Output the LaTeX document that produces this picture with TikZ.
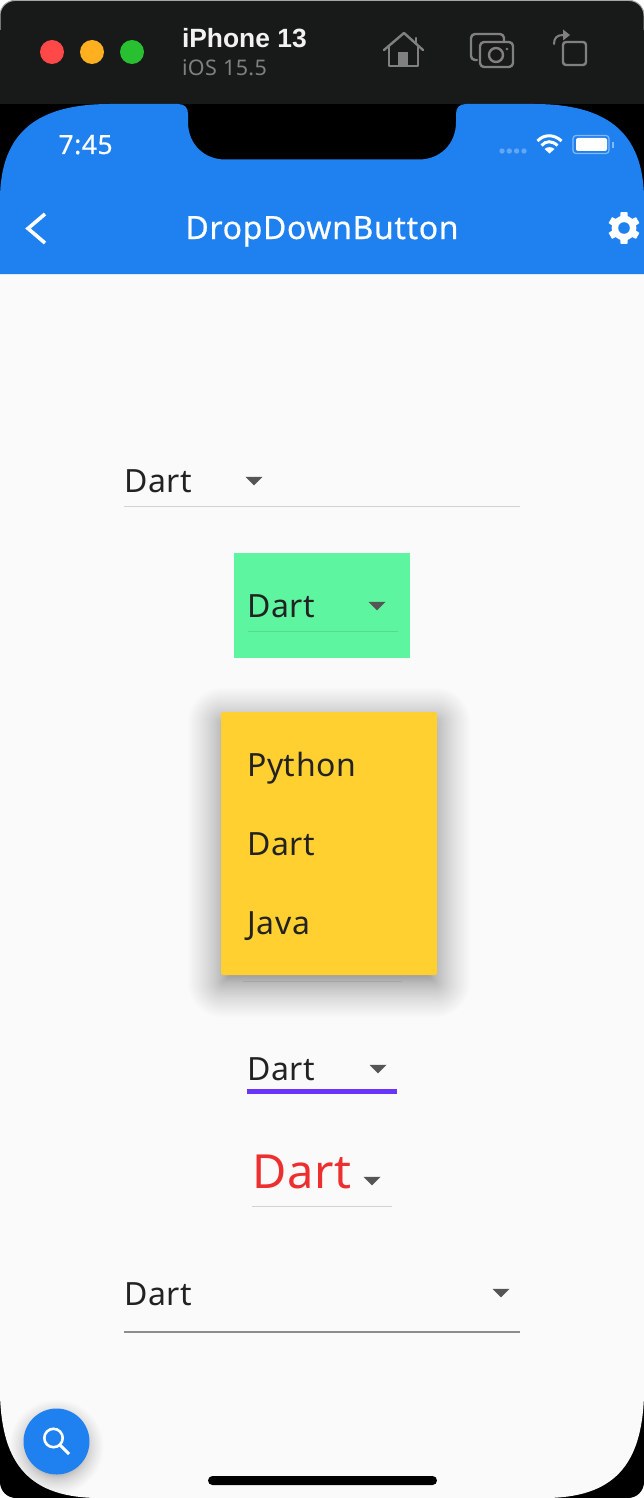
\documentclass[tikz,border=0pt]{standalone}
\usepackage{fontspec}
\setmainfont{Noto Sans}[LetterSpace=2]
\newfontfamily\devfont{Liberation Sans}
\newfontfamily\mediumfont{Noto Sans}[LetterSpace=2,FakeBold=0.5]
\definecolor{barbg}{HTML}{181A1A}
\definecolor{appblue}{HTML}{1F80F0}
\definecolor{pagebg}{HTML}{FAFAFA}
\definecolor{ink}{HTML}{222222}
\definecolor{caret}{HTML}{555555}
\definecolor{icongray}{HTML}{808080}
\definecolor{mintbg}{HTML}{5EF5A0}
\definecolor{amberbg}{HTML}{FFD030}
\definecolor{violetline}{HTML}{6A35FA}
\definecolor{redtext}{HTML}{EE2F2F}
\definecolor{lampred}{HTML}{FF4848}
\definecolor{lampamber}{HTML}{FFB020}
\definecolor{lampgreen}{HTML}{28C030}
\newcommand{\fs}[1]{\fontsize{#1}{#1}\selectfont}
\tikzset{
  x=1pt,y=-1pt,
  lab/.style={anchor=base west,inner sep=0pt,outer sep=0pt,text=ink,font=\fs{32}},
  caretmark/.style={fill=caret,draw=none},
  iconline/.style={draw=icongray,line width=2.4pt,line join=round,line cap=round},
  thinrule/.style={line width=1pt,draw=#1},
}
\newcommand{\caretat}[2]{\fill[caretmark] (#1-8.5,#2-4.2) -- (#1+8.5,#2-4.2) -- (#1,#2+4.4) -- cycle;}
\begin{document}
\begin{tikzpicture}
\useasboundingbox (0,0) rectangle (644,1498);
\fill[white] (0,0) rectangle (644,1498);
% device body
\fill[black,rounded corners=16pt] (0,20) rectangle (644,1498);
\fill[barbg,rounded corners=16pt] (0,0) rectangle (644,60);
\fill[barbg] (0,30) rectangle (644,104);
\draw[line width=1pt,draw=gray!70,rounded corners=15pt] (0,30) -- (0,.5) -- (644,.5) -- (644,30);
% page
\fill[pagebg] (0,270) -- (0,1395) .. controls (2,1465) and (30,1498) .. (100,1498) -- (544,1498) .. controls (614,1498) and (642,1465) .. (644,1395) -- (644,270) -- cycle;
% app bar
\fill[appblue] (0,274) -- (0,200) .. controls (0,130) and (40,104) .. (110,104) -- (178,104)
  .. controls (185,104) and (188,108) .. (188,114) -- (188,122)
  .. controls (188,145) and (205,159.5) .. (225,159.5) -- (419,159.5)
  .. controls (439,159.5) and (456,145) .. (456,122) -- (456,114)
  .. controls (456,108) and (459,104) .. (466,104) -- (534,104)
  .. controls (604,104) and (644,130) .. (644,200) -- (644,274) -- cycle;
% window buttons
\fill[lampred] (52,52) circle[radius=12];
\fill[lampamber] (92,52) circle[radius=12];
\fill[lampgreen] (132,52) circle[radius=12];
\node[lab,text=white!90!gray,font=\devfont\fs{26.4}\bfseries] (device) at (182,48) {iPhone 13};
\node[lab,text=icongray,font=\fs{21.5}] (os) at (182,75.5) {iOS 15.5};
% home icon
\draw[iconline] (384,50) -- (404,33) -- (423,50);
\draw[iconline] (416,38) -- (416,44);
\draw[iconline] (389,47) -- (389,66) -- (418,66) -- (418,47);
\fill[icongray] (398,52) rectangle (408,66);
% camera icon
\draw[iconline,rounded corners=4pt] (477,60) -- (471,60) -- (471,34) -- (504,34) -- (504,42);
\draw[iconline,rounded corners=4pt] (480,42) rectangle (513,67);
\draw[iconline] (496,55) circle[radius=7];
\fill[icongray] (507,49) circle[radius=1.3];
% rotate icon
\draw[iconline,rounded corners=3pt] (563,42) rectangle (586,65);
\draw[iconline,line width=2pt] (554,44) .. controls (554,38) and (557,35) .. (563,35);
\fill[icongray] (563,29.5) -- (570,35) -- (563,40.5) -- cycle;
% status bar
\node[lab,text=white,font=\mediumfont\fs{26.5}] (clock) at (58.5,154) {7:45};
\foreach \x in {502,509.3,516.6,524} \fill[white,opacity=.3] (\x,151) circle[radius=2.7];
\draw[white,line width=3pt] (537.5,141) .. controls (544,134) and (554,134) .. (561.5,141);
\draw[white,line width=3pt] (541.5,145.5) .. controls (546,140.5) and (552,140.5) .. (557.5,145.5);
\fill[white] (544.5,149) .. controls (547.5,146.5) and (551.5,146.5) .. (554.5,149) -- (549.5,153.5) -- cycle;
\draw[white,opacity=.45,line width=1.2pt,rounded corners=3pt] (573,135.5) rectangle (609,153.5);
\fill[white,rounded corners=2pt] (576,138) rectangle (607,151);
\fill[white,opacity=.45] (612,142) rectangle (613.5,148);
% app bar content
\draw[white,line width=3.6pt,line join=miter] (45,214) -- (28,228.5) -- (45,243);
\node[anchor=base,inner sep=0pt,text=white,font=\mediumfont\fs{32}] (title) at (322,239) {DropDownButton};
\begin{scope}[shift={(624,228)}]
  \foreach \a in {0,60,...,300} {
    \fill[white,rotate=\a] (-4.8,0) -- (-3.4,-15.8) -- (3.4,-15.8) -- (4.8,0) -- cycle;
  }
  \fill[white] (0,0) circle[radius=12.4];
  \fill[appblue] (0,0) circle[radius=5.8];
\end{scope}
% dropdown 1
\node[lab] (d1) at (124,492) {Dart};
\caretat{254}{481}
\draw[thinrule=black!18] (124,506.5) -- (520,506.5);
% dropdown 2
\fill[mintbg] (234,553) rectangle (410,658);
\node[lab] (d2) at (247,617) {Dart};
\caretat{377}{606}
\draw[thinrule=black!10!mintbg] (248,631.5) -- (398,631.5);
% open menu
\foreach \i in {1,...,34} {
  \pgfmathsetmacro{\e}{-9+42*(\i/34)^1.7}
  \pgfmathsetmacro{\r}{max(\e,0)+2}
  \fill[black,opacity=.0105,rounded corners=\r pt] (221-\e,712-\e+9) rectangle (437+\e,975+\e+9);
}
\draw[thinrule=black!35] (243,981.5) -- (402,981.5);
\fill[amberbg,rounded corners=2pt] (221,712) rectangle (437,975);
\node[lab] (m1) at (247,776) {Python};
\node[lab] (m2) at (247,855) {Dart};
\node[lab] (m3) at (247.5,934) {Java};
% dropdown 4
\node[lab] (d4) at (247,1080) {Dart};
\caretat{378}{1069}
\draw[line width=4.2pt,draw=violetline] (247,1091.5) -- (397,1091.5);
% dropdown 5
\node[lab,text=redtext,font=\fs{47}] (d5) at (252,1188) {Dart};
\caretat{372}{1181}
\draw[thinrule=black!18] (252,1206.5) -- (392,1206.5);
% dropdown 6
\node[lab] (d6) at (124,1305) {Dart};
\caretat{501}{1293}
\draw[line width=1.5pt,draw=black!45] (124,1332) -- (520,1332);
% fab
\foreach \i in {1,...,20} {
  \pgfmathsetmacro{\e}{29+18*(\i/20)^1.6}
  \fill[black,opacity=.011] (56.5,1447) circle[radius=\e];
}
\fill[appblue] (56.5,1441.5) circle[radius=33];
\draw[white,line width=2.6pt] (53.5,1438) circle[radius=9.2];
\draw[white,line width=3pt] (60,1445) -- (69,1454);
% home indicator
\fill[black,rounded corners=4.5pt] (208,1476) rectangle (437,1485);
\end{tikzpicture}
\end{document}
